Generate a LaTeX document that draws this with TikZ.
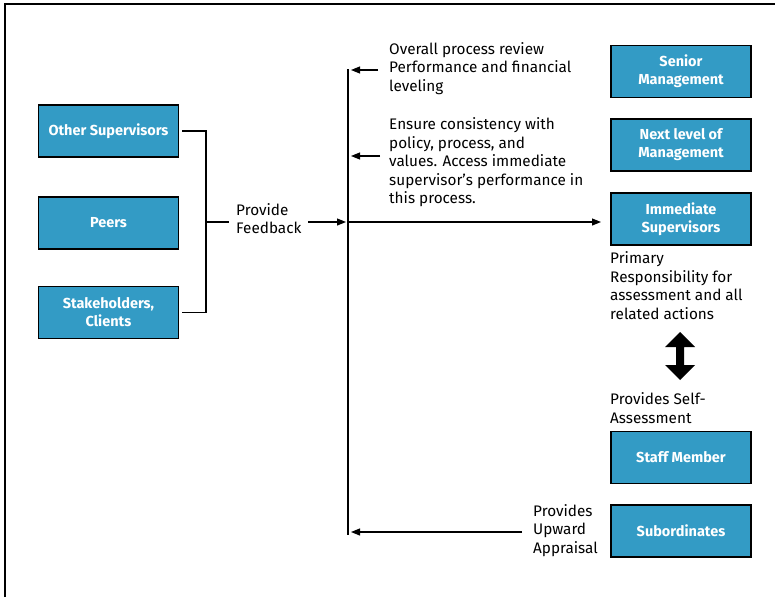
\documentclass[tikz,border=0pt]{standalone}
\usepackage{fontspec}
\setmainfont{Fira Sans}
\usetikzlibrary{arrows.meta}
\definecolor{boxblue}{RGB}{51,155,197}
\tikzset{
  box/.style={draw=black, line width=1.6pt, fill=boxblue, text=white,
    minimum width=140pt, minimum height=52pt, inner sep=0pt, align=center,
    font=\fontsize{14.5}{18}\selectfont\bfseries},
  lbl/.style={anchor=west, align=left, inner sep=0pt,
    font=\fontsize{15.3}{18.5}\selectfont},
  conn/.style={line width=1.1pt},
  arr/.style={line width=1.1pt, -{Triangle[length=9pt,width=7pt]}},
}
\begin{document}
\begin{tikzpicture}[x=1pt,y=-1pt]
\useasboundingbox (0,0) rectangle (775,597);
% frame
\draw[line width=1.6pt] (5,597) -- (5,4) -- (775,4);
% left boxes
\node[box] (os) at (108.5,131) {Other Supervisors};
\node[box] (peers) at (108.5,223) {Peers};
\node[box] (sh) at (108.5,312.5) {Stakeholders,\\Clients};
% right boxes
\node[box] (sm) at (681,71.5) {Senior\\Management};
\node[box] (nl) at (681,145) {Next level of\\Management};
\node[box] (is) at (681,219) {Immediate\\Supervisors};
\node[box] (staff) at (681,457.5) {Staff Member};
\node[box] (sub) at (681,531) {Subordinates};
% texts
\node[lbl] (t1) at (389,68.5) {Overall process review\\Performance and financial\\leveling};
\node[lbl] (t2) at (389,162.5) {Ensure consistency with\\policy, process, and\\values. Access immediate\\supervisor’s performance in\\this process.};
\node[lbl] (fb) at (236,218.5) {Provide\\Feedback};
\node[lbl] (t3) at (610,285.5) {Primary\\Responsibility for\\assessment and all\\related actions};
\node[lbl] (t4) at (610,408) {Provides Self-\\Assessment};
\node[lbl] (t5) at (533,530.5) {Provides\\Upward\\Appraisal};
% coordinates
\coordinate (vtop) at (348,69);
\coordinate (vbot) at (348,535);
\coordinate (bx) at (206,131);
\coordinate (bmid) at (206,222);
\coordinate (stub) at (229,222);
\coordinate (fbs) at (308,222);
\coordinate (vfb) at (346,222);
\coordinate (vmid) at (348,222);
\coordinate (tip) at (601,222);
\coordinate (a1s) at (378,70);
\coordinate (a1e) at (351,70);
\coordinate (a2s) at (380,156);
\coordinate (a2e) at (351,156);
\coordinate (a3s) at (522,532);
\coordinate (a3e) at (351,532);
% bracket
\draw[conn] ([xshift=3pt]os.east) -- (bx) |- ([xshift=3pt]sh.east);
\draw[conn] (bmid) -- (stub);
\draw[arr] (fbs) -- (vfb);
% vertical line
\draw[conn] (vtop) -- (vbot);
\draw[arr] (vmid) -- (tip);
\draw[arr] (a1s) -- (a1e);
\draw[arr] (a2s) -- (a2e);
\draw[arr] (a3s) -- (a3e);
% double arrow
\coordinate (da) at (680,332);
\fill (da) -- ++(15,15) -- ++(-11,0) -- ++(0,18) -- ++(11,0) -- ++(-15,15) -- ++(-15,-15) -- ++(11,0) -- ++(0,-18) -- ++(-11,0) -- cycle;
\end{tikzpicture}
\end{document}
